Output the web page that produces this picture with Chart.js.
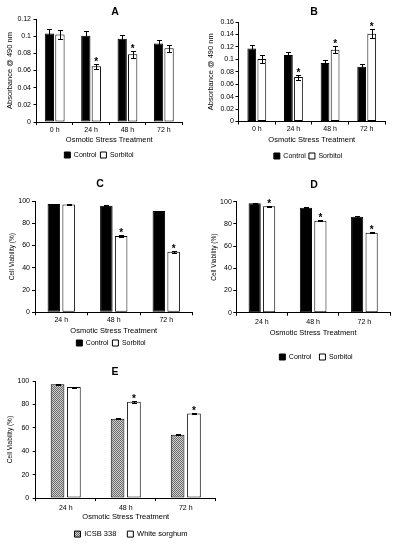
<!DOCTYPE html>
<html><head><meta charset="utf-8">
<script src="https://cdn.jsdelivr.net/npm/chart.js@4.4.1/dist/chart.umd.min.js"></script>
<style>
html,body{margin:0;padding:0;background:#fff;}
body{width:396px;height:550px;position:relative;overflow:hidden;}
canvas{position:absolute;}
</style></head><body>
<canvas id="cA"></canvas>
<canvas id="cB"></canvas>
<canvas id="cC"></canvas>
<canvas id="cD"></canvas>
<canvas id="cE"></canvas>
<script>
// ---------------- DATA ----------------
const catsAB = ['0 h', '24 h', '48 h', '72 h'];
const catsCDE = ['24 h', '48 h', '72 h'];
const xTitle = 'Osmotic Stress Treatment';

// Panel A: Absorbance @ 490 nm
const controlA = [0.103, 0.1005, 0.097, 0.0915];
const controlAErr = [0.005, 0.005, 0.004, 0.004];
const sorbitolA = [0.102, 0.065, 0.079, 0.086];
const sorbitolAErr = [0.005, 0.003, 0.004, 0.004];
const sorbitolASig = [0, 1, 1, 0];
const ticksA = [0, 0.02, 0.04, 0.06, 0.08, 0.1, 0.12];
const tickLabelsA = ['0', '0.02', '0.04', '0.06', '0.08', '0.1', '0.12'];

// Panel B: Absorbance @ 490 nm
const controlB = [0.1175, 0.107, 0.094, 0.088];
const controlBErr = [0.006, 0.005, 0.005, 0.005];
const sorbitolB = [0.1005, 0.0715, 0.1155, 0.141];
const sorbitolBErr = [0.006, 0.004, 0.006, 0.007];
const sorbitolBSig = [0, 1, 1, 1];
const ticksB = [0, 0.02, 0.04, 0.06, 0.08, 0.1, 0.12, 0.14, 0.16];
const tickLabelsB = ['0', '0.02', '0.04', '0.06', '0.08', '0.1', '0.12', '0.14', '0.16'];

// Panel C: Cell viability (%)
const controlC = [97.2, 95.7, 91];
const controlCErr = [0.5, 0.5, 0.3];
const sorbitolC = [96.8, 68.6, 54.5];
const sorbitolCErr = [0.5, 0.8, 0.8];
const sorbitolCSig = [0, 1, 1];

// Panel D: Cell viability (%)
const controlD = [98.5, 94.5, 86.5];
const controlDErr = [0.3, 0.4, 1.0];
const sorbitolD = [96, 82.8, 72];
const sorbitolDErr = [0.5, 0.5, 0.5];
const sorbitolDSig = [1, 1, 1];

// Panel E: Cell viability (%)
const icsbE = [97.2, 67.8, 54];
const icsbEErr = [0.6, 0.5, 0.4];
const whiteE = [94.8, 82.2, 72.2];
const whiteEErr = [0.4, 1.0, 0.8];
const whiteESig = [0, 1, 1];

const ticksViab = [0, 20, 40, 60, 80, 100];
const tickLabelsViab = ['0', '20', '40', '60', '80', '100'];

// ---------------- STYLE ----------------
const FONT = "'Liberation Sans', Arial, Helvetica, sans-serif";
Chart.defaults.font.family = FONT;
Chart.defaults.color = '#000';
Chart.defaults.animation = false;

function makePattern(canvasId) {
  const c = document.createElement('canvas'); c.width = 2; c.height = 2;
  const g = c.getContext('2d');
  g.fillStyle = '#cfcfcf'; g.fillRect(0, 0, 2, 2);
  g.fillStyle = '#6a6a6a'; g.fillRect(0, 0, 1, 1); g.fillRect(1, 1, 1, 1);
  return document.getElementById(canvasId).getContext('2d').createPattern(c, 'repeat');
}

const errorBars = {
  id: 'errorBars',
  afterDatasetsDraw(chart) {
    const ctx = chart.ctx, y = chart.scales.y;
    ctx.save();
    chart.data.datasets.forEach((ds, i) => {
      const meta = chart.getDatasetMeta(i);
      meta.data.forEach((bar, j) => {
        const v = ds.data[j], e = (ds.errors || [])[j] || 0;
        const x = Math.round(bar.x) + 0.5;
        const yt = Math.round(y.getPixelForValue(v + e)) + 0.5;
        const yb = Math.round(y.getPixelForValue(v - e)) + 0.5;
        ctx.strokeStyle = '#000'; ctx.lineWidth = 1;
        ctx.beginPath();
        ctx.moveTo(x, yt); ctx.lineTo(x, yb);
        ctx.moveTo(x - 2.5, yt); ctx.lineTo(x + 2.5, yt);
        ctx.moveTo(x - 2.5, yb); ctx.lineTo(x + 2.5, yb);
        ctx.stroke();
        if (ds.sig && ds.sig[j]) {
          ctx.fillStyle = '#000';
          ctx.font = 'bold 10px ' + FONT;
          ctx.textAlign = 'center';
          ctx.textBaseline = 'alphabetic';
          ctx.fillText('*', bar.x, yt + 0.5);
        }
      });
    });
    ctx.restore();
  }
};

const nudge = {
  id: 'nudge',
  afterLayout(chart, args, o) {
    const t = chart.titleBlock, l = chart.legend;
    if (t) { t.left += o.tdx; t.right += o.tdx; t.top += o.tdy; t.bottom += o.tdy; }
    if (l) { l.left += o.ldx; l.right += o.ldx; l.top += o.ldy; l.bottom += o.ldy; }
  }
};

function panelChart(P, cats, sets, yTicks, yLabels, yTitle) {
  const el = document.getElementById(P.id);
  el.width = P.w; el.height = P.h;
  el.style.left = P.left + 'px'; el.style.top = P.top + 'px';
  const tickLH = P.tickFont * 1.2, xTitleLH = P.xTitleFont * 1.2, yTitleLH = P.yTitleFont * 1.2;
  const titleLH = P.titleFont * 1.2;
  const relAxisX = P.axisX - P.left, relRight = P.right - P.left;
  const relTop = P.plotTop - P.top, relAxisY = P.axisY - P.top;
  const padL = P.yTitleX - P.left - yTitleLH / 2;
  const yW = relAxisX - padL;
  const padR = P.w - relRight;
  const titlePadTop = relTop - titleLH;
  const tdy = (P.titleY - P.top) - (titlePadTop + titleLH / 2);
  const xH = P.tickLen + 2 * P.tickPad + tickLH + xTitleLH + P.xTitlePad;
  const itemH = Math.max(P.legFont, P.box);
  const legH = itemH + P.legPad + 10;
  const padB = Math.max(0, P.h - (relAxisY + xH + legH));
  const ldy = (P.legendY - P.top) - (relAxisY + xH + P.legPad + itemH / 2);
  const midFull = (padL + P.w - padR) / 2;
  const tdx = (P.titleX - P.left) - midFull;
  const ldx = (P.legendX - P.left) - midFull;

  return new Chart(el, {
    type: 'bar',
    data: {
      labels: cats,
      datasets: sets.map(s => ({
        label: s.label, data: s.data, errors: s.err, sig: s.sig,
        backgroundColor: s.bg, borderColor: '#000', borderWidth: 1, borderSkipped: false,
        categoryPercentage: P.cp, barPercentage: P.bp
      }))
    },
    options: {
      responsive: false, animation: false, events: [],
      layout: { padding: { left: padL, right: padR, top: 0, bottom: padB } },
      plugins: {
        title: { display: true, text: P.letter, color: '#000',
          font: { size: P.titleFont, weight: 'bold' }, padding: { top: titlePadTop, bottom: 0 } },
        legend: { display: true, position: 'bottom',
          labels: { boxWidth: P.box, boxHeight: P.box, padding: P.legPad, color: '#000',
            font: { size: P.legFont } } },
        tooltip: { enabled: false },
        nudge: { tdx, tdy, ldx, ldy }
      },
      scales: {
        x: {
          grid: { display: true, drawOnChartArea: false, drawTicks: true, tickLength: P.tickLen, color: '#000', offset: true },
          border: { display: true, color: '#000', width: 1 },
          ticks: { font: { size: P.tickFont }, padding: P.tickPad, color: '#000', maxRotation: 0, autoSkip: false },
          title: { display: true, text: xTitle, color: '#000', font: { size: P.xTitleFont },
            padding: { top: P.xTitlePad, bottom: 0 } }
        },
        y: {
          min: yTicks[0], max: yTicks[yTicks.length - 1],
          afterBuildTicks(s) { s.ticks = yTicks.map(v => ({ value: v })); },
          afterFit(s) { s.width = yW; },
          grid: { display: true, drawOnChartArea: false, drawTicks: true, tickLength: 3, color: '#000' },
          border: { display: true, color: '#000', width: 1 },
          ticks: { font: { size: P.tickFont }, padding: P.yTickPad, color: '#000',
            callback: (v, i) => yLabels[i] },
          title: { display: true, text: yTitle, color: '#000', font: { size: P.yTitleFont }, padding: 0 }
        }
      }
    },
    plugins: [errorBars, nudge]
  });
}

const common = { tickFont: 7, tickLen: 3, xTitleFont: 7.5, titleFont: 10.5, legFont: 7, box: 6 };

panelChart(Object.assign({}, common, {
  id: 'cA', letter: 'A', left: 0, top: 0, w: 200, h: 185,
  axisX: 36.5, right: 182, plotTop: 19, axisY: 122,
  titleX: 115, titleY: 12, legendX: 99, legendY: 155, yTitleX: 10,
  tickPad: 1, xTitlePad: 0, yTitleFont: 7.5, yTickPad: 2.5, legPad: 4, cp: 0.577, bp: 0.886
}), catsAB, [
  { label: 'Control', data: controlA, err: controlAErr, bg: '#000' },
  { label: 'Sorbitol', data: sorbitolA, err: sorbitolAErr, sig: sorbitolASig, bg: '#fff' }
], ticksA, tickLabelsA, 'Absorbance @ 490 nm');

panelChart(Object.assign({}, common, {
  id: 'cB', letter: 'B', left: 196, top: 0, w: 200, h: 185,
  axisX: 238.5, right: 385, plotTop: 22, axisY: 121.5,
  titleX: 314, titleY: 12, legendX: 308, legendY: 156, yTitleX: 211,
  tickPad: 0, xTitlePad: 3, yTitleFont: 7.5, yTickPad: 1.5, legPad: 3, cp: 0.55, bp: 0.87
}), catsAB, [
  { label: 'Control', data: controlB, err: controlBErr, bg: '#000' },
  { label: 'Sorbitol', data: sorbitolB, err: sorbitolBErr, sig: sorbitolBSig, bg: '#fff' }
], ticksB, tickLabelsB, 'Absorbance @ 490 nm');

panelChart(Object.assign({}, common, {
  id: 'cC', letter: 'C', left: 0, top: 176, w: 200, h: 190,
  axisX: 35, right: 192.5, plotTop: 201, axisY: 312.3,
  titleX: 100, titleY: 184, legendX: 111, legendY: 343, yTitleX: 12.7,
  tickPad: 1, xTitlePad: 1, yTitleFont: 6.5, yTickPad: 2, legPad: 4, cp: 0.564, bp: 0.845
}), catsCDE, [
  { label: 'Control', data: controlC, err: controlCErr, bg: '#000' },
  { label: 'Sorbitol', data: sorbitolC, err: sorbitolCErr, sig: sorbitolCSig, bg: '#fff' }
], ticksViab, tickLabelsViab, 'Cell Viability (%)');

panelChart(Object.assign({}, common, {
  id: 'cD', letter: 'D', left: 196, top: 176, w: 200, h: 195,
  axisX: 236.3, right: 390, plotTop: 201.7, axisY: 312.7,
  titleX: 314, titleY: 185, legendX: 316, legendY: 357, yTitleX: 214,
  tickPad: 2, xTitlePad: 0.5, yTitleFont: 6.5, yTickPad: 1.5, legPad: 8, cp: 0.565, bp: 0.84
}), catsCDE, [
  { label: 'Control', data: controlD, err: controlDErr, bg: '#000' },
  { label: 'Sorbitol', data: sorbitolD, err: sorbitolDErr, sig: sorbitolDSig, bg: '#fff' }
], ticksViab, tickLabelsViab, 'Cell Viability (%)');

panelChart(Object.assign({}, common, {
  id: 'cE', letter: 'E', left: 0, top: 362, w: 240, h: 188,
  axisX: 35.7, right: 215.8, plotTop: 381, axisY: 506,
  titleX: 115, titleY: 372, legendX: 131, legendY: 542, yTitleX: 10,
  tickPad: 3, xTitlePad: -3, yTitleFont: 6.5, yTickPad: 3.5, legFont: 7.5, legPad: 11, cp: 0.545, bp: 0.835
}), catsCDE, [
  { label: 'ICSB 338', data: icsbE, err: icsbEErr, bg: makePattern('cE') },
  { label: 'White sorghum', data: whiteE, err: whiteEErr, sig: whiteESig, bg: '#fff' }
], ticksViab, tickLabelsViab, 'Cell Viability (%)');
</script>
</body></html>
